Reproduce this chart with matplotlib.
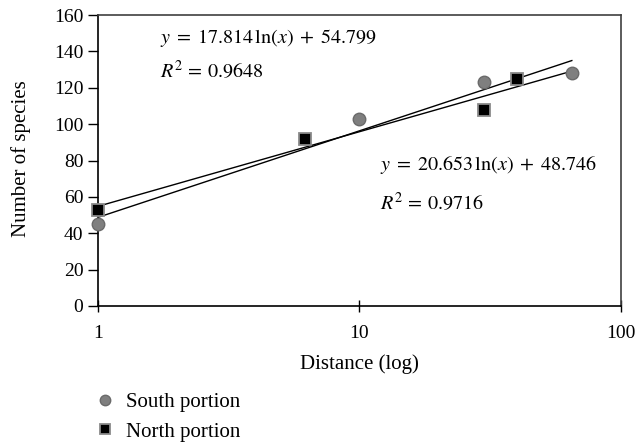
import numpy as np
import matplotlib
matplotlib.use("Agg")
import matplotlib.pyplot as plt
from matplotlib.lines import Line2D

plt.rcParams["font.family"] = ["Liberation Serif", "DejaVu Serif"]
plt.rcParams["mathtext.fontset"] = "stix"

south_x = [1, 10, 30, 65]
south_y = [45, 103, 123, 128]
north_x = [1, 6.2, 30, 40]
north_y = [53, 92, 108, 125]

south_fit = (20.653, 48.746, 0.9716)
north_fit = (17.814, 54.799, 0.9648)
fit_range = (1, 65)

yticks = [0, 20, 40, 60, 80, 100, 120, 140, 160]
xticks = [1, 10, 100]

fig = plt.figure(figsize=(6.36, 4.42), dpi=100)
ax = fig.add_axes([0.154, 0.3077, 0.822, 0.6583])

xs = np.linspace(fit_range[0], fit_range[1], 200)
for a, b, _ in (south_fit, north_fit):
    ax.plot(xs, a * np.log(xs) + b, color="black", lw=1.0, zorder=2)

circ = dict(marker="o", ms=9, mfc="#7f7f7f", mec="#6a6a6a", mew=1.0, ls="none")
sq = dict(marker="s", ms=8, mfc="black", mec="#8a8a8a", mew=1.3, ls="none")
ax.plot(south_x, south_y, zorder=3, clip_on=False, **circ)
ax.plot(north_x, north_y, zorder=3, clip_on=False, **sq)

ax.set_xscale("log")
ax.set_xlim(1, 100)
ax.set_ylim(0, 160)
ax.set_yticks(yticks)
ax.set_xticks(xticks)
ax.set_xticklabels([str(t) for t in xticks])
ax.minorticks_off()
ax.tick_params(axis="y", direction="out", length=7, labelsize=14, width=1, pad=3.5)
ax.tick_params(axis="x", direction="inout", length=9, labelsize=14, width=1, pad=9)
for side in ("left", "bottom"):
    ax.spines[side].set_color("black")
    ax.spines[side].set_linewidth(1.2)
for side in ("top", "right"):
    ax.spines[side].set_color("#404040")
    ax.spines[side].set_linewidth(1.2)

ax.set_xlabel("Distance (log)", fontsize=15)
ax.set_ylabel("Number of species", fontsize=15)
ax.xaxis.set_label_coords(0.5, -0.165)
ax.yaxis.set_label_coords(-0.128, 0.505)

eq_fs = 14.5
eq_fmt = r"$y \;=\; %.3f\,\ln(x) \;+\; %.3f$"
r2_fmt = r"$R^2 \,=\, %.4f$"
a, b, r2 = north_fit
ax.text(0.1185, 0.921, eq_fmt % (a, b), transform=ax.transAxes,
        fontsize=eq_fs, va="center")
ax.text(0.1185, 0.805, r2_fmt % r2, transform=ax.transAxes,
        fontsize=eq_fs, va="center")
a, b, r2 = south_fit
ax.text(0.539, 0.485, eq_fmt % (a, b), transform=ax.transAxes,
        fontsize=eq_fs, va="center")
ax.text(0.539, 0.352, r2_fmt % r2, transform=ax.transAxes,
        fontsize=eq_fs, va="center")

handles = [
    Line2D([], [], **{**circ, "ms": 7.5}),
    Line2D([], [], **{**sq, "ms": 6.5}),
]
fig.legend(handles, ["South portion", "North portion"], loc="upper left",
           bbox_to_anchor=(0.149, 0.112), frameon=False, fontsize=15,
           borderpad=0, borderaxespad=0, handletextpad=0.5, labelspacing=0.48,
           handlelength=1.0)

fig.savefig("out.png", dpi=100, facecolor="white")
